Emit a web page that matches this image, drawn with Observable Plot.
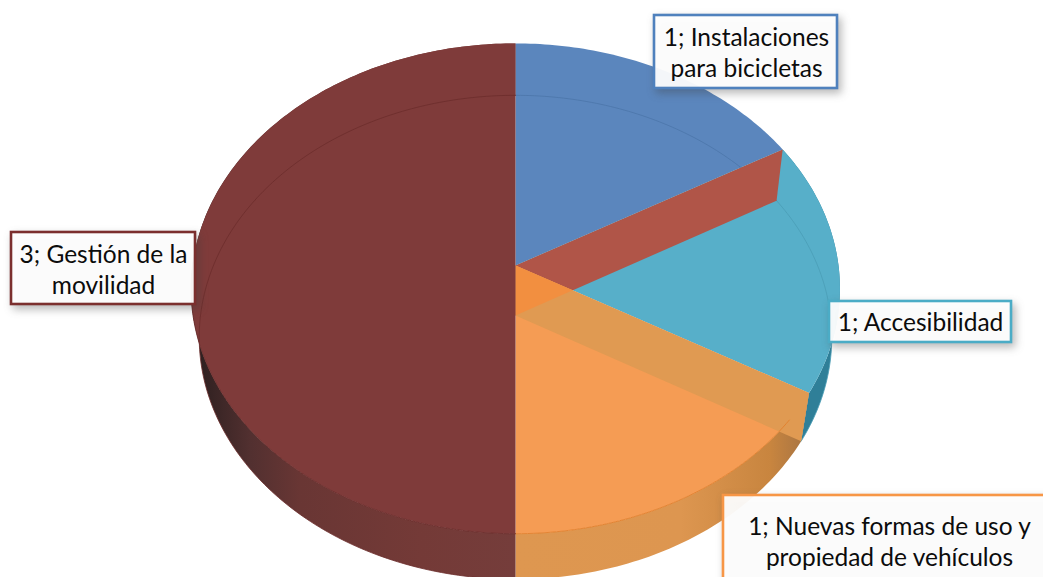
<!DOCTYPE html>
<html>
<head>
<meta charset="utf-8">
<script src="https://cdn.jsdelivr.net/npm/d3@7"></script>
<script src="https://cdn.jsdelivr.net/npm/@observablehq/plot@0.6"></script>
<style>
html,body{margin:0;padding:0;background:#fff;overflow:hidden}
svg{display:block}
g[aria-label="rect"]{filter:drop-shadow(3px 4px 4px rgba(60,60,60,.38))}
</style>
</head>
<body>
<div id="chart"></div>
<script>
// Data
const categories = ["Instalaciones para bicicletas", "Accesibilidad", "Nuevas formas de uso y propiedad de vehículos", "Gestión de la movilidad"];
const values = [1, 1, 1, 3];
const labelLines = ["Instalaciones\npara bicicletas", "Accesibilidad", "Nuevas formas de uso y\npropiedad de vehículos", "Gestión de la\nmovilidad"];

// Styles
const faceColors = ["#5b86bd", "#57afc9", "#f59c54", "#7f3b3a"];
const edgeColors = ["#4c76aa", "#4a9db6", "#e27f2c", "#6c2c2b"];
const borderColors = ["#4f81bd", "#4bacc6", "#f79646", "#7b2f2e"];
const innerWallRed = "#b05548", innerWallOrange = "#e09a52", apexOrange = "#f28f40", tealWall = "#2f7f98";

// Layout: perspective discs for the top and the bottom of the pie, label boxes
const W = 1043, H = 577;
const top3d = {cx: 515, cy: 265, a: 323, b: 243, k: 0.094};
const bot3d = {cx: 515, cy: 315, a: 315, b: 240, k: 0.09};
const boxes = [
  {x1: 654, x2: 837, y1: 15, y2: 88, tx: 746, ty: 51},
  {x1: 829, x2: 1011, y1: 301, y2: 342, tx: 920, ty: 320.5},
  {x1: 723, x2: 1060, y1: 495, y2: 600, tx: 889, ty: 540},
  {x1: 11, x2: 195, y1: 232, y2: 304, tx: 103, ty: 268}
];

const slices = d3.pie().sort(null).value(d => d)(values);
const proj = (f, t) => {
  const X = Math.sin(t), Y = Math.cos(t), d = 1 + f.k * Y;
  return {x: f.cx + f.a * X / d, y: f.cy - f.b * Y / d};
};
const arc = (f, t0, t1) => {
  const n = Math.max(2, Math.ceil(Math.abs(t1 - t0) * 60));
  return d3.range(n + 1).map(i => proj(f, t0 + (t1 - t0) * i / n));
};
const apex = f => ({x: f.cx, y: f.cy});
const wedge = (f, s) => [apex(f), ...arc(f, s.startAngle, s.endAngle), apex(f)];
const wall = (s) => [...arc(top3d, s.startAngle, s.endAngle), ...arc(bot3d, s.endAngle, s.startAngle)];
const quad = (t) => [apex(top3d), proj(top3d, t), proj(bot3d, t), apex(bot3d)];
const meet = (a, b, c, d) => {
  const u = ((c.x - a.x) * (d.y - c.y) - (c.y - a.y) * (d.x - c.x)) / ((b.x - a.x) * (d.y - c.y) - (b.y - a.y) * (d.x - c.x));
  return {x: a.x + u * (b.x - a.x), y: a.y + u * (b.y - a.y)};
};
const poly = (pts, fill) => Plot.line(pts, {x: "x", y: "y", fill, stroke: "none"});
const edge = (pts, stroke, w = 0.9) => Plot.line(pts, {x: "x", y: "y", stroke, strokeWidth: w, strokeOpacity: 0.9});

const [sBlue, sTeal, sOrange, sRed] = slices;
const tri = [apex(top3d),
  meet(apex(top3d), proj(top3d, sOrange.startAngle), apex(bot3d), proj(bot3d, sTeal.startAngle)),
  apex(bot3d)];

const gradient = (id, stops) => () => {
  const ns = "http://www.w3.org/2000/svg";
  const g = document.createElementNS(ns, "linearGradient");
  g.setAttribute("id", id);
  g.setAttribute("gradientUnits", "userSpaceOnUse");
  g.setAttribute("x1", stops[0][0]); g.setAttribute("x2", stops[stops.length - 1][0]);
  g.setAttribute("y1", 0); g.setAttribute("y2", 0);
  const span = stops[stops.length - 1][0] - stops[0][0];
  for (const [x, c] of stops) {
    const s = document.createElementNS(ns, "stop");
    s.setAttribute("offset", (x - stops[0][0]) / span);
    s.setAttribute("stop-color", c);
    g.appendChild(s);
  }
  const d = document.createElementNS(ns, "defs");
  d.appendChild(g);
  return d;
};

const table = values.map((v, i) => ({
  category: categories[i], value: v, text: `${v}; ${labelLines[i]}`, ...boxes[i], border: borderColors[i]
}));

const chart = Plot.plot({
  width: W, height: H, margin: 0,
  x: {domain: [0, W], range: [0, W], axis: null},
  y: {domain: [0, H], range: [0, H], axis: null},
  style: {background: "transparent", overflow: "hidden"},
  marks: [
    gradient("wallRed", [[198, "#2e2020"], [250, "#523030"], [300, "#693634"], [420, "#743a37"], [515, "#753d3b"]]),
    gradient("wallOrange", [[515, "#de9750"], [680, "#dd9650"], [770, "#c8853f"], [805, "#a87442"]]),
    poly(wall(sTeal), tealWall),
    poly(wall(sOrange), "url(#wallOrange)"),
    poly(wall(sRed), "url(#wallRed)"),
    poly(wedge(top3d, sBlue), faceColors[0]),
    poly(wedge(top3d, sTeal), faceColors[1]),
    edge(arc(bot3d, sBlue.startAngle, sBlue.endAngle), edgeColors[0]),
    edge(arc(bot3d, sTeal.startAngle, sTeal.endAngle), edgeColors[1]),
    poly(quad(sTeal.startAngle), innerWallRed),
    poly(wedge(top3d, sOrange), faceColors[2]),
    poly(quad(sOrange.startAngle), innerWallOrange),
    poly(tri, apexOrange),
    poly(wedge(top3d, sRed), faceColors[3]),
    edge(arc(bot3d, sRed.startAngle, sRed.endAngle), edgeColors[3]),
    edge(arc(top3d, sOrange.startAngle + 0.12, sOrange.endAngle), edgeColors[2], 1),
    edge(arc(top3d, sRed.startAngle, sRed.endAngle - 1.5), edgeColors[3], 1),
    Plot.rect(table, {x1: "x1", x2: "x2", y1: "y1", y2: "y2", fill: "#ffffff", fillOpacity: 0.94,
      stroke: "border", strokeWidth: 2.6}),
    Plot.text(table, {x: "tx", y: "ty", text: "text", fill: "#0c0c0c", fontSize: 24.5, lineHeight: 1.28,
      fontFamily: "Lato", textAnchor: "middle"})
  ]
});
document.getElementById("chart").appendChild(chart);
</script>
</body>
</html>
